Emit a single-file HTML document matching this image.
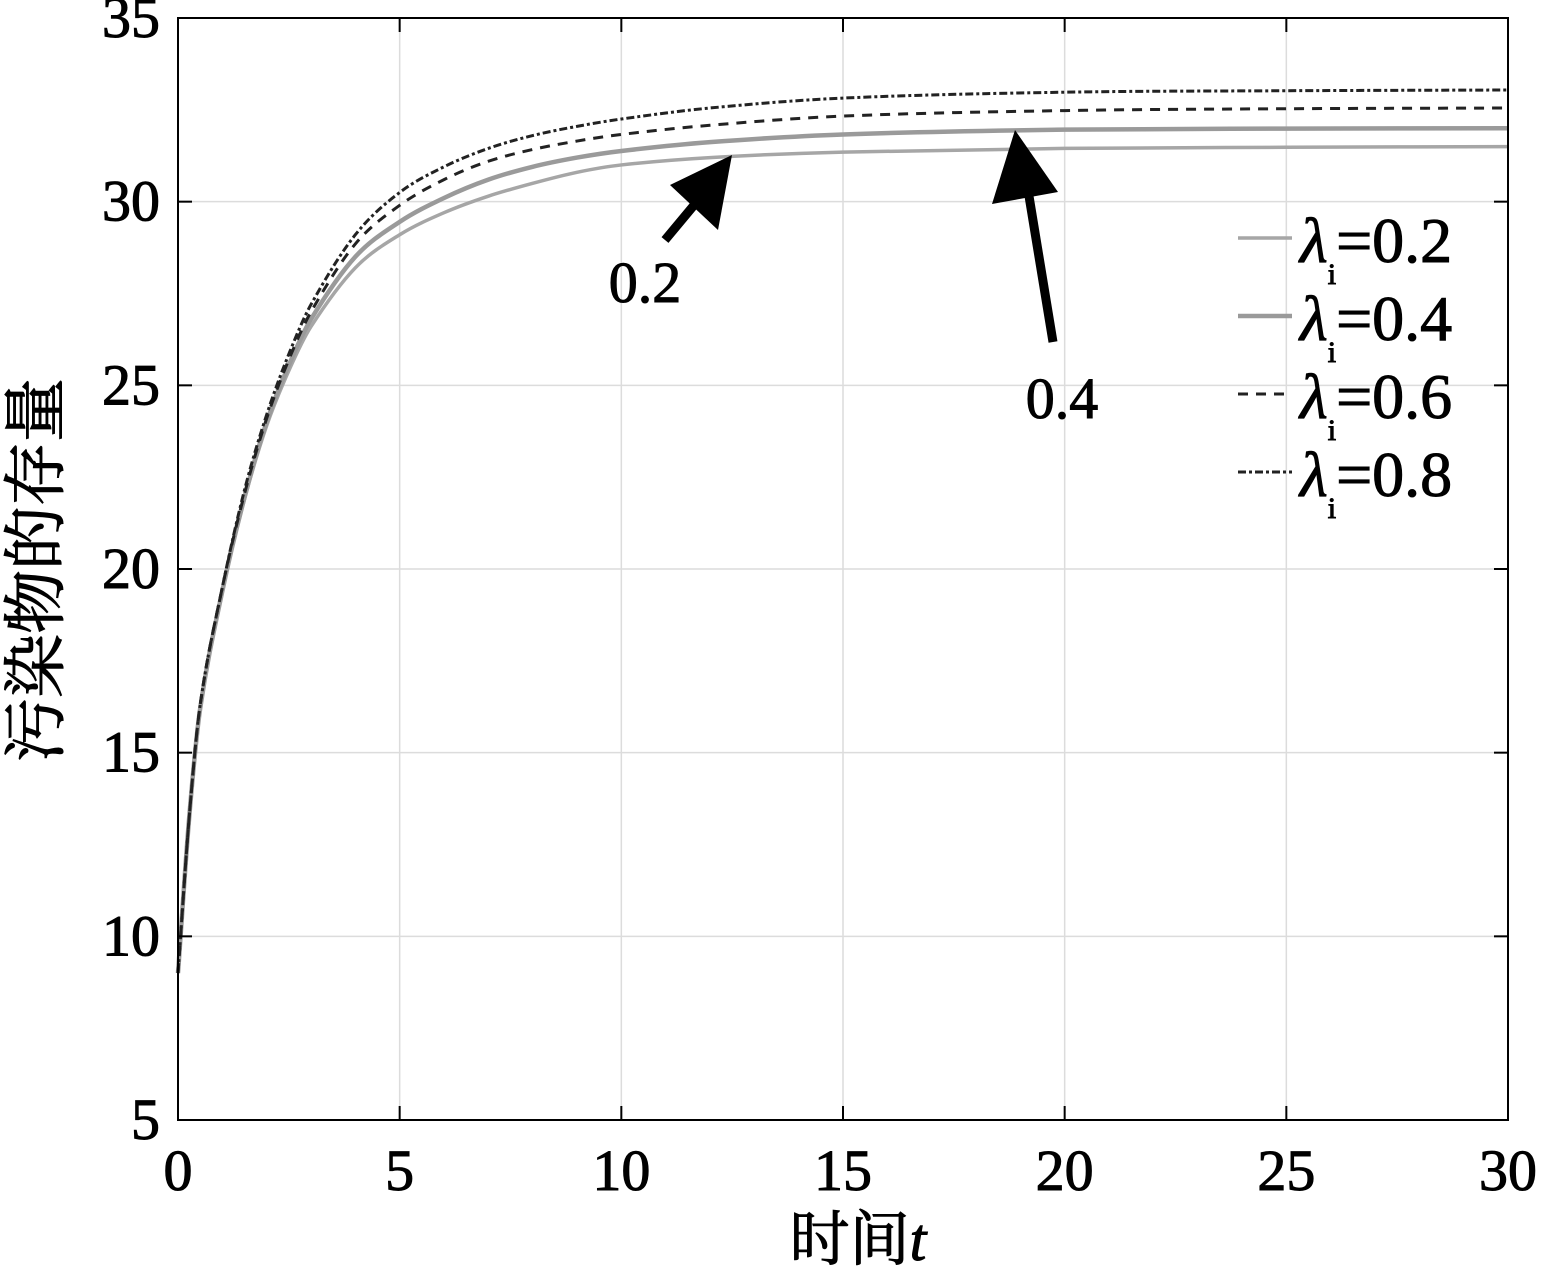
<!DOCTYPE html>
<html><head><meta charset="utf-8"><style>
html,body{margin:0;padding:0;background:#fff;}
svg{display:block;font-family:"Liberation Serif","Noto Serif CJK SC",serif;}
.t{stroke:#000;stroke-width:1;}
</style></head><body>
<svg id="chart" width="1546" height="1272" viewBox="0 0 1546 1272" xmlns="http://www.w3.org/2000/svg">
<g id="grid"></g>
<g id="series"></g>
<rect x="178" y="18" width="1330" height="1102" fill="none" stroke="#000" stroke-width="2"/>
<g id="ticks"></g>
<text class="t" transform="translate(58,570) rotate(-90)" text-anchor="middle" font-size="64" font-family="'Noto Serif CJK SC',serif">污染物的存量</text>
<text class="t" x="858" y="1260" text-anchor="middle" font-size="60"><tspan font-family="'Noto Serif CJK SC',serif">时间</tspan><tspan font-style="italic">t</tspan></text>
<g>
<line x1="665" y1="240" x2="705" y2="192" stroke="#000" stroke-width="9"/>
<polygon points="732,155 670,185 718,230" fill="#000"/>
<text class="t" x="645" y="302" text-anchor="middle" font-size="58">0.2</text>
</g>
<g>
<line x1="1053" y1="342" x2="1028" y2="190" stroke="#000" stroke-width="9"/>
<polygon points="1015,130 992,204 1058,192" fill="#000"/>
<text class="t" x="1062" y="418" text-anchor="middle" font-size="58">0.4</text>
</g>
<g id="legend"></g>
</svg>
<script>
const times=[0,0.25,0.5,1,1.5,2,2.5,3,4,5,6,7,8,9,10,12,15,20,25,30];
const s02=[9,13.2,16.2,19.4,21.9,23.9,25.4,26.6,28.2,29.1,29.7,30.15,30.5,30.8,31.0,31.2,31.35,31.45,31.48,31.5];
const s04=[9,13.2,16.2,19.4,21.95,24.0,25.55,26.8,28.5,29.45,30.1,30.6,30.95,31.2,31.38,31.62,31.83,31.96,31.99,32.0];
const s06=[9,13.2,16.3,19.5,22.05,24.1,25.7,27.0,28.85,29.9,30.6,31.1,31.42,31.65,31.83,32.08,32.33,32.48,32.53,32.55];
const s08=[9,13.2,16.3,19.5,22.15,24.2,25.85,27.2,29.1,30.25,30.95,31.45,31.8,32.05,32.25,32.55,32.82,32.98,33.02,33.04];
const xTicks=[0,5,10,15,20,25,30];
const yTicks=[5,10,15,20,25,30,35];
const legendLabels=["0.2","0.4","0.6","0.8"];
const NS="http://www.w3.org/2000/svg";
const X=t=>178+(t-0)/30*1330;
const Y=v=>1120-(v-5)/30*1102;
function mk(tag,attrs,parent){const e=document.createElementNS(NS,tag);for(const k in attrs)e.setAttribute(k,attrs[k]);parent.appendChild(e);return e;}
const grid=document.getElementById('grid'),ticks=document.getElementById('ticks');
xTicks.forEach(t=>{
 const g=mk('line',{x1:X(t),x2:X(t),y1:18,y2:1120,stroke:'#dcdcdc','stroke-width':1.5},grid);
 
 
 const a=mk('line',{x1:X(t),x2:X(t),y1:1120,y2:1106,stroke:'#000','stroke-width':2},ticks);
 
 
 const b=mk('line',{x1:X(t),x2:X(t),y1:18,y2:32,stroke:'#000','stroke-width':2},ticks);
 
 
 const tx=mk('text',{x:X(t),y:1190,'text-anchor':'middle','font-size':58,'class':'t'},ticks);
 tx.textContent=t;
 
 
});
yTicks.forEach(v=>{
 const g=mk('line',{x1:178,x2:1508,y1:Y(v),y2:Y(v),stroke:'#dcdcdc','stroke-width':1.5},grid);
 
 
 const a=mk('line',{x1:178,x2:192,y1:Y(v),y2:Y(v),stroke:'#000','stroke-width':2},ticks);
 
 
 const b=mk('line',{x1:1494,x2:1508,y1:Y(v),y2:Y(v),stroke:'#000','stroke-width':2},ticks);
 
 
 const tx=mk('text',{x:160,y:Y(v)+19,'text-anchor':'end','font-size':58,'class':'t'},ticks);
 tx.textContent=v;
 
 
});
function pathD(vals){
 const p=times.map((t,i)=>[X(t),Y(vals[i])]);
 let d='M'+p[0][0]+','+p[0][1];
 for(let i=0;i<p.length-1;i++){
  const p0=p[i-1]||p[i],p1=p[i],p2=p[i+1],p3=p[i+2]||p2;
  const h=p2[0]-p1[0];
  const m1=(p2[1]-p0[1])/((p2[0]-p0[0])||1), m2=(p3[1]-p1[1])/((p3[0]-p1[0])||1);
  const c1=[p1[0]+h/3,p1[1]+m1*h/3];
  const c2=[p2[0]-h/3,p2[1]-m2*h/3];
  d+=` C${c1[0]},${c1[1]} ${c2[0]},${c2[1]} ${p2[0]},${p2[1]}`;
 }
 return d;
}
const styles=[
 {vals:s02,stroke:'#a6a6a6',w:3.5,dash:'',name:'line-lambda-0.2'},
 {vals:s04,stroke:'#9a9a9a',w:4.5,dash:'',name:'line-lambda-0.4'},
 {vals:s06,stroke:'#222',w:3,dash:'10,8',name:'line-lambda-0.6'},
 {vals:s08,stroke:'#222',w:3,dash:'8,3,3,3',name:'line-lambda-0.8'}];
const sg=document.getElementById('series'),lg=document.getElementById('legend');
styles.forEach((s,i)=>{
 const p=mk('path',{d:pathD(s.vals),fill:'none',stroke:s.stroke,'stroke-width':s.w,'stroke-dasharray':s.dash},sg);
 
 
 const ly=238+i*78;
 const l=mk('line',{x1:1238,x2:1292,y1:ly,y2:ly,stroke:s.stroke,'stroke-width':s.w,'stroke-dasharray':s.dash},lg);
 
 
 const t=mk('text',{x:1300,y:ly+24,'font-size':64,'class':'t'},lg);
 
 
 t.innerHTML='<tspan font-style="italic">λ</tspan><tspan font-size="30" dy="22">i</tspan><tspan dy="-22">='+legendLabels[i]+'</tspan>';
});
</script>
</body></html>
